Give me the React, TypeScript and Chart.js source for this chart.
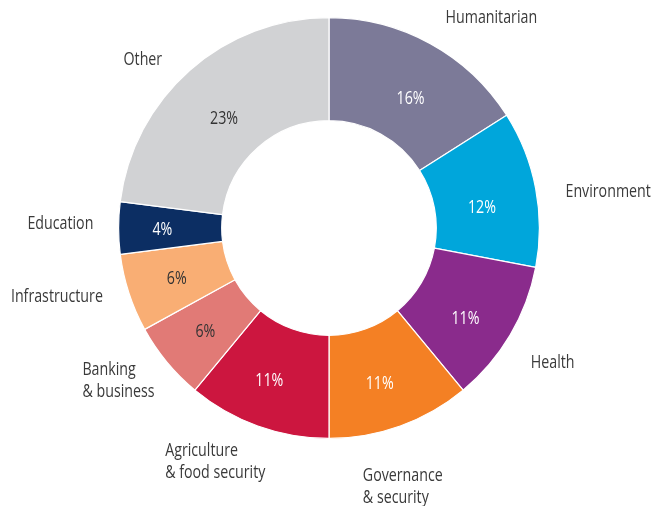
import React, { useEffect, useRef } from "react";
import { Chart, registerables } from "chart.js";

Chart.register(...registerables);

const categories: string[][] = [
  ["Humanitarian"],
  ["Environment"],
  ["Health"],
  ["Governance", "& security"],
  ["Agriculture", "& food security"],
  ["Banking", "& business"],
  ["Infrastructure"],
  ["Education"],
  ["Other"],
];
const shares: number[] = [16, 12, 11, 11, 11, 6, 6, 4, 23];
const colors: string[] = [
  "#7c7a98",
  "#00a6db",
  "#8a2b8c",
  "#f48024",
  "#cc163f",
  "#e17a76",
  "#f9ae74",
  "#0c2e63",
  "#d1d2d4",
];
const valueTextColors: string[] = [
  "#ffffff",
  "#ffffff",
  "#ffffff",
  "#ffffff",
  "#ffffff",
  "#333333",
  "#333333",
  "#ffffff",
  "#333333",
];

// label layout: alignment and nudge from arc-mid anchor
const labelLayout: { align: CanvasTextAlign; dx: number; dy: number }[] = [
  { align: "left", dx: 3, dy: -4 },
  { align: "left", dx: 5, dy: 8 },
  { align: "left", dx: -1, dy: 15 },
  { align: "left", dx: -46, dy: 26 },
  { align: "left", dx: -84, dy: 1 },
  { align: "left", dx: -65, dy: -8 },
  { align: "right", dx: -2, dy: -4 },
  { align: "right", dx: 0, dy: -4 },
  { align: "right", dx: -11, dy: 9 },
];
const valueNudge: [number, number][] = [
  [8, 5],
  [3, 8],
  [5, 13],
  [-1, 12],
  [-8, 9],
  [-6, 7],
  [-7, 4],
  [-14, 2],
  [-4, 5],
];

const FONT = '"Open Sans", "Noto Sans", sans-serif';
const SX = 0.79;

function drawText(ctx: CanvasRenderingContext2D, text: string, x: number, y: number) {
  ctx.save();
  ctx.translate(x, y);
  ctx.scale(SX, 1);
  ctx.fillText(text, 0, 0);
  ctx.restore();
}

const labelPlugin = {
  id: "donutLabels",
  afterDraw(chart: any) {
    const ctx = chart.ctx as CanvasRenderingContext2D;
    const meta = chart.getDatasetMeta(0);
    ctx.save();
    meta.data.forEach((arc: any, i: number) => {
      const { x, y, startAngle, endAngle, innerRadius, outerRadius } = arc.getProps(
        ["x", "y", "startAngle", "endAngle", "innerRadius", "outerRadius"],
        true
      );
      const mid = (startAngle + endAngle) / 2;
      // value label
      const rv = innerRadius + 0.44 * (outerRadius - innerRadius);
      ctx.font = `18px ${FONT}`;
      ctx.fillStyle = valueTextColors[i];
      ctx.textAlign = "center";
      ctx.textBaseline = "middle";
      drawText(
        ctx,
        `${shares[i]}%`,
        x + Math.cos(mid) * rv + valueNudge[i][0],
        y + Math.sin(mid) * rv + valueNudge[i][1]
      );
      // category label
      const ro = outerRadius * 1.12;
      const lay = labelLayout[i];
      const ax = x + Math.cos(mid) * ro + lay.dx;
      const ay = y + Math.sin(mid) * ro + lay.dy;
      ctx.font = `18px ${FONT}`;
      ctx.fillStyle = "#3a3a3a";
      ctx.textAlign = lay.align;
      categories[i].forEach((line, k) => {
        drawText(ctx, line, ax, ay + k * 22);
      });
    });
    ctx.restore();
  },
};

export default function App() {
  const ref = useRef<HTMLCanvasElement>(null);
  useEffect(() => {
    if (!ref.current) return;
    const chart = new Chart(ref.current, {
      type: "doughnut",
      data: {
        labels: categories.map((c) => c.join(" ")),
        datasets: [
          {
            data: shares,
            backgroundColor: colors,
            borderColor: "#ffffff",
            borderWidth: 1.2,
          },
        ],
      },
      options: {
        responsive: false,
        animation: false,
        cutout: "51%",
        layout: { padding: { top: 9, bottom: 67, left: 0, right: 4 } },
        plugins: {
          legend: { display: false },
          tooltip: { enabled: false },
        },
      },
      plugins: [labelPlugin],
    });
    return () => chart.destroy();
  }, []);
  return (
    <div style={{ position: "absolute", left: 8, top: 8, width: 646, height: 498 }}>
      <canvas ref={ref} width={646} height={498} style={{ display: "block", width: 646, height: 498 }} />
    </div>
  );
}
